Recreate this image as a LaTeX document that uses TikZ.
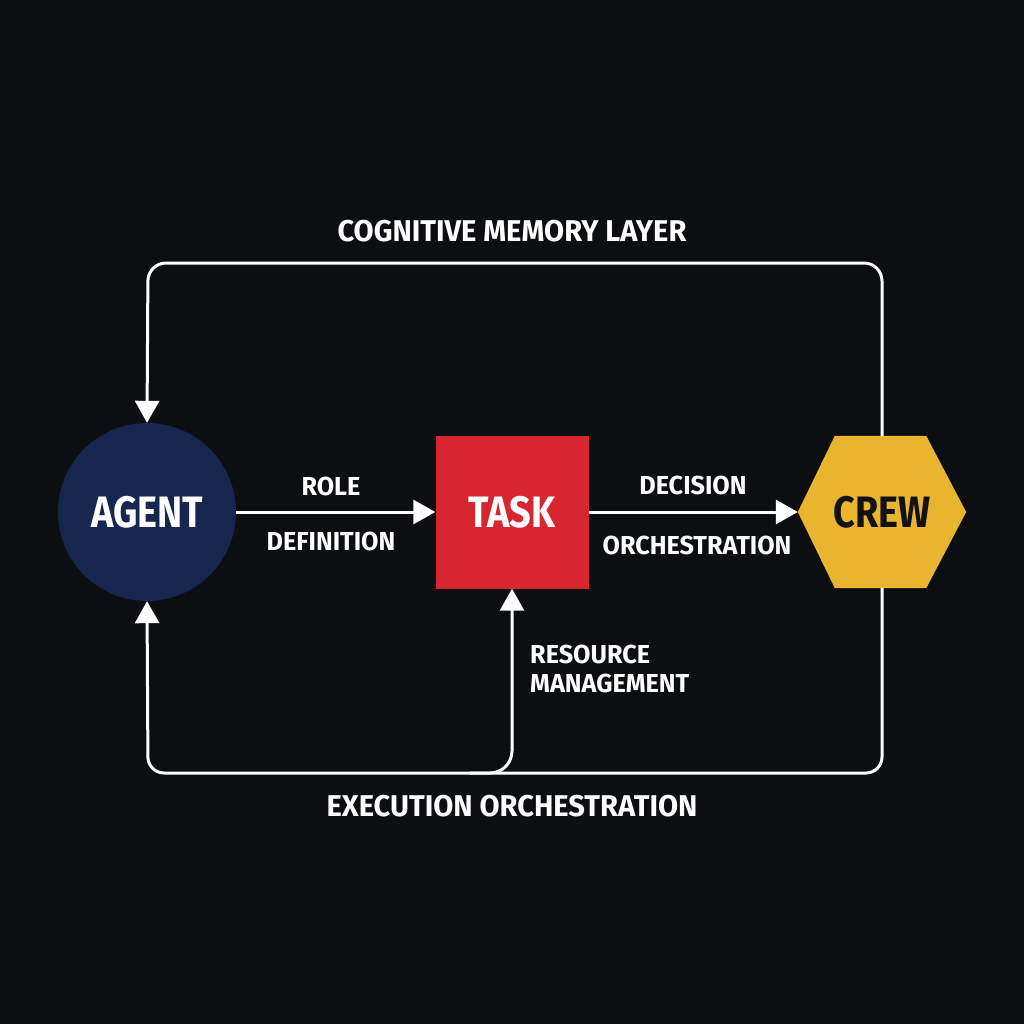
\documentclass[tikz,border=0pt]{standalone}
\usepackage{fontspec}
\setmainfont{Fira Sans}[BoldFont={Fira Sans Bold}]
\newfontfamily\condfont{Fira Sans Bold}[FakeStretch=0.86]
\newfontfamily\semicond{Fira Sans Bold}[FakeStretch=0.97]
\usetikzlibrary{arrows.meta,calc}
\definecolor{bg}{HTML}{0C0E11}
\definecolor{navy}{HTML}{16264F}
\definecolor{taskred}{HTML}{D82631}
\definecolor{crewyel}{HTML}{E9B52F}
\definecolor{ink}{HTML}{121212}
\tikzset{
  conn/.style={draw=white,line width=3pt},
  arr/.style={conn,-{Triangle[width=24pt,length=22pt]}},
  lbl/.style={text=white,font=\semicond\fontsize{26}{28}\selectfont,inner sep=0pt},
  biglbl/.style={text=white,font=\semicond\fontsize{30}{32}\selectfont,inner sep=0pt},
  shapelbl/.style={font=\condfont\fontsize{44}{46}\selectfont,inner sep=0pt},
}
\begin{document}
\begin{tikzpicture}[x=1pt,y=-1pt]
\fill[bg] (0,0) rectangle (1024,1024);
\useasboundingbox (0,0) rectangle (1024,1024);
% shapes
\node[shapelbl,circle,fill=navy,text=white,minimum size=178pt] (agent) at (147,512) {AGENT};
\node[shapelbl,rectangle,fill=taskred,text=white,minimum size=153pt] (task) at (512,512) {TASK};
\node[shapelbl,rectangle,text=ink,minimum width=168pt,minimum height=152pt] (crew) at (882,512) {};
\fill[crewyel] (crew.west) -- ($(crew.north west)+(37,0)$) -- ($(crew.north east)+(-40,0)$) -- (crew.east) -- ($(crew.south east)+(-40,0)$) -- ($(crew.south west)+(37,0)$) -- cycle;
\node[shapelbl,text=ink] (crewtext) at (crew.center) {CREW};
% main arrows
\draw[arr] (agent.east) -- (task.west);
\draw[arr] (task.east) -- (crew.west);
% top loop
\coordinate (crewtop) at (crew.north);
\draw[arr,rounded corners=18pt] (crewtop) |- (148,263) -- (agent.north);
% bottom loop
\coordinate (crewbot) at (crew.south);
\draw[arr,rounded corners=16pt] (crewbot) |- (148,773) -- (agent.south);
\coordinate (branch) at (470,773);
\draw[arr,rounded corners=22pt] (branch) -| (task.south);
% labels
\node[biglbl] (cml) at (512,231) {COGNITIVE MEMORY LAYER};
\node[lbl] (role) at (331,486) {ROLE};
\node[lbl] (defn) at (331,541) {DEFINITION};
\node[lbl] (dec) at (693,485) {DECISION};
\node[lbl] (orch) at (697,545) {ORCHESTRATION};
\node[lbl,anchor=west] (res) at (530,654) {RESOURCE};
\node[lbl,anchor=west] (mgmt) at (530,683) {MANAGEMENT};
\node[biglbl] (exec) at (512,806) {EXECUTION ORCHESTRATION};
\end{tikzpicture}
\end{document}
